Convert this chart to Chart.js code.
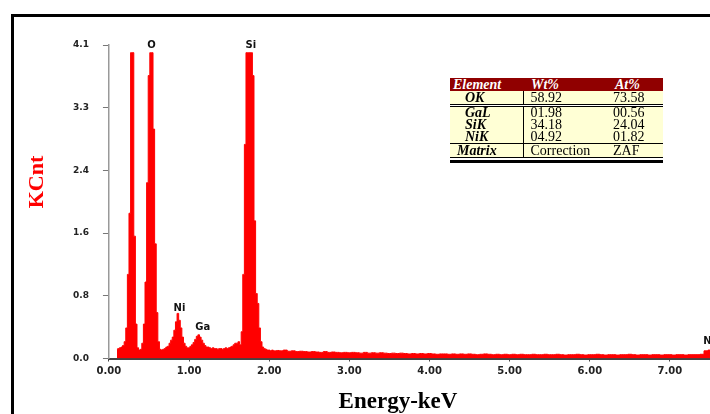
<!DOCTYPE html>
<html>
<head>
<meta charset="utf-8">
<script src="https://cdn.jsdelivr.net/npm/chart.js@4.4.0/dist/chart.umd.min.js"></script>
<style>
    html, body { margin: 0; padding: 0; background: #fff; }
    #wrap { position: relative; width: 710px; height: 414px; overflow: hidden; }
    #wrap canvas { position: absolute; left: 0; top: 0; }
    #quant { position: absolute; left: 450px; top: 78px; width: 213px; padding-bottom: 2px; border-bottom: 3px solid #000; }
    #quant table { border-collapse: collapse; width: 213px; table-layout: fixed; font-family: "Liberation Serif", serif; font-size: 14px; color: #000; }
    #quant th, #quant td { padding: 0; text-align: left; white-space: nowrap; overflow: hidden; }
    #quant th { background: #900000; color: #fff; font-style: italic; font-weight: bold; height: 13px; line-height: 13px; font-size: 14px; }
    #quant td { background: #ffffd5; height: 12px; line-height: 12px; }
    #quant td.el { font-weight: bold; font-style: italic; padding-left: 15px; border-right: 1px solid #000; }
    #quant tr.first td { height: 13px; line-height: 13px; border-bottom: 3px double #000; }
    #quant tr.last td { height: 13px; line-height: 13px; border-top: 1px solid #000; border-bottom: 1px solid #000; }
    #quant tr.last td.el { padding-left: 7px; }
    #quant .c1 { width: 73px; padding-left: 3px; }
    #quant .c2 { width: 67px; padding-left: 8px; }
    #quant .c3 { width: 73px; padding-left: 25px; }
    #quant td.v2 { padding-left: 7px; }
    #quant td.v3 { padding-left: 23px; }
</style>
</head>
<body>
<div id="wrap">
    <canvas id="eds" width="710" height="414"></canvas>
    <div id="quant"></div>
</div>
<script>
// spectrum, fine channels 0.10 - 2.08 keV (0.02 keV)
var lowStart = 0.10, lowStep = 0.02;
var lowCounts = [
    0.12, 0.13, 0.14, 0.15, 0.17, 0.22, 0.40, 1.10, 1.90, 4.00,
    4.00, 1.60, 0.45, 0.14, 0.11, 0.12, 0.20, 0.45, 1.00, 2.30,
    3.70, 4.00, 4.00, 3.00, 1.50, 0.60, 0.22, 0.12, 0.11, 0.12,
    0.13, 0.15, 0.16, 0.20, 0.24, 0.28, 0.37, 0.48, 0.59, 0.50,
    0.40, 0.28, 0.20, 0.16, 0.14, 0.14, 0.16, 0.18, 0.21, 0.25,
    0.29, 0.31, 0.28, 0.24, 0.20, 0.17, 0.15, 0.15, 0.14, 0.13,
    0.14, 0.13, 0.13, 0.12, 0.13, 0.13, 0.12, 0.13, 0.14, 0.13,
    0.14, 0.15, 0.16, 0.18, 0.20, 0.20, 0.22, 0.18, 0.35, 1.10,
    2.80, 4.00, 4.00, 4.00, 4.00, 3.70, 1.80, 0.85, 0.72, 0.40,
    0.22, 0.15, 0.13, 0.12, 0.11, 0.11, 0.10, 0.11, 0.10, 0.10
];
// background tail 2.10 - 7.60 keV (0.05 keV)
var tailStart = 2.10, tailStep = 0.05;
var tailCounts = [
    0.105, 0.10, 0.11, 0.095, 0.10, 0.09, 0.095, 0.09, 0.085, 0.09,
    0.085, 0.08, 0.09, 0.08, 0.085, 0.08, 0.075, 0.08, 0.075, 0.08,
    0.075, 0.07, 0.08, 0.07, 0.075, 0.07, 0.075, 0.07, 0.065, 0.07,
    0.065, 0.07, 0.065, 0.06, 0.065, 0.06, 0.065, 0.06, 0.065, 0.06,
    0.055, 0.06, 0.06, 0.055, 0.06, 0.055, 0.06, 0.055, 0.06, 0.055,
    0.05, 0.055, 0.06, 0.055, 0.05, 0.055, 0.05, 0.055, 0.05, 0.055,
    0.05, 0.055, 0.05, 0.05, 0.055, 0.05, 0.05, 0.055, 0.05, 0.05,
    0.055, 0.05, 0.045, 0.05, 0.05, 0.055, 0.05, 0.045, 0.05, 0.05,
    0.055, 0.05, 0.045, 0.05, 0.05, 0.045, 0.05, 0.05, 0.055, 0.05,
    0.045, 0.05, 0.05, 0.045, 0.05, 0.05, 0.045, 0.05, 0.05, 0.045,
    0.05, 0.05, 0.045, 0.05, 0.05, 0.05, 0.055, 0.10, 0.11, 0.11,
    0.10
];

var yTickValues = [0, 0.82, 1.64, 2.46, 3.28, 4.1];
var yTickLabels = ["0.0", "0.8", "1.6", "2.4", "3.3", "4.1"];

var peakNames = ["O", "Si", "Ni", "Ga", "Ni"];
var peakEnergy = [0.53, 1.77, 0.88, 1.17, 7.49];
var peakLabelY = [4.1, 4.1, 0.66, 0.41, 0.22];

var tableHead = ["Element", "Wt%", "At%"];
var tableElements = ["OK", "GaL", "SiK", "NiK", "Matrix"];
var tableWt = ["58.92", "01.98", "34.18", "04.92", "Correction"];
var tableAt = ["73.58", "00.56", "24.04", "01.82", "ZAF"];

var points = [];
lowCounts.forEach(function(c, i) {
    points.push({ x: +(lowStart + i * lowStep).toFixed(3), y: c });
});
tailCounts.forEach(function(c, i) {
    points.push({ x: +(tailStart + i * tailStep).toFixed(3), y: c });
});

// quant table
var html = '<table><colgroup><col class="c1"><col class="c2"><col class="c3"></colgroup>';
html += '<tr><th class="c1">' + tableHead[0] + '</th><th class="c2">' + tableHead[1] + '</th><th class="c3">' + tableHead[2] + '</th></tr>';
tableElements.forEach(function(el, i) {
    var cls = i === 0 ? ' class="first"' : (i === tableElements.length - 1 ? ' class="last"' : '');
    html += '<tr' + cls + '><td class="el">' + el + '</td><td class="v2">' + tableWt[i] + '</td><td class="v3">' + tableAt[i] + '</td></tr>';
});
html += '</table>';
document.getElementById("quant").innerHTML = html;

var decorations = {
    id: "decorations",
    afterDraw: function(chart) {
        var ctx = chart.ctx, xs = chart.scales.x, ys = chart.scales.y;
        ctx.save();
        // frame
        ctx.strokeStyle = "#000";
        ctx.lineWidth = 3;
        ctx.strokeRect(12.5, 15.5, 720, 420);
        // peak labels
        ctx.fillStyle = "#111";
        ctx.font = "bold 10px 'DejaVu Sans'";
        ctx.textAlign = "center";
        ctx.textBaseline = "middle";
        peakNames.forEach(function(n, i) {
            ctx.fillText(n, xs.getPixelForValue(peakEnergy[i]), ys.getPixelForValue(peakLabelY[i]));
        });
        // axis titles
        ctx.font = "bold 23px 'Liberation Serif'";
        ctx.fillStyle = "#000";
        ctx.fillText("Energy-keV", 398, 402);
        ctx.translate(37, 182);
        ctx.rotate(-Math.PI / 2);
        ctx.fillStyle = "#ff0000";
        ctx.font = "bold 22px 'Liberation Serif'";
        ctx.fillText("KCnt", 0, 0);
        ctx.restore();
    }
};

new Chart(document.getElementById("eds"), {
    type: "line",
    data: {
        datasets: [{
            data: points,
            stepped: "middle",
            fill: "origin",
            borderColor: "#ff0000",
            backgroundColor: "#ff0000",
            borderWidth: 1,
            pointRadius: 0
        }]
    },
    options: {
        responsive: false,
        animation: false,
        layout: { padding: { left: 59, top: 45, right: 0, bottom: 32.5 } },
        plugins: { legend: { display: false }, tooltip: { enabled: false } },
        scales: {
            x: {
                type: "linear",
                min: 0,
                max: 7.5,
                border: { display: true, color: "#444", width: 2 },
                grid: { drawOnChartArea: false, drawTicks: true, tickLength: 3, color: "#444" },
                ticks: {
                    stepSize: 1,
                    includeBounds: false,
                    padding: 4,
                    color: "#222",
                    font: { family: "DejaVu Sans", size: 10, weight: "bold" },
                    callback: function(v) { return v.toFixed(2); }
                }
            },
            y: {
                min: 0,
                max: 4.1,
                border: { display: true, color: "#999", width: 1.5 },
                grid: { drawOnChartArea: false, drawTicks: true, tickLength: 6, color: "#777" },
                afterBuildTicks: function(scale) {
                    scale.ticks = yTickValues.map(function(v) { return { value: v }; });
                },
                ticks: {
                    padding: 14,
                    color: "#222",
                    font: { family: "DejaVu Sans", size: 9, weight: "bold" },
                    callback: function(v, i) { return yTickLabels[i]; }
                }
            }
        }
    },
    plugins: [decorations]
});
</script>
</body>
</html>
